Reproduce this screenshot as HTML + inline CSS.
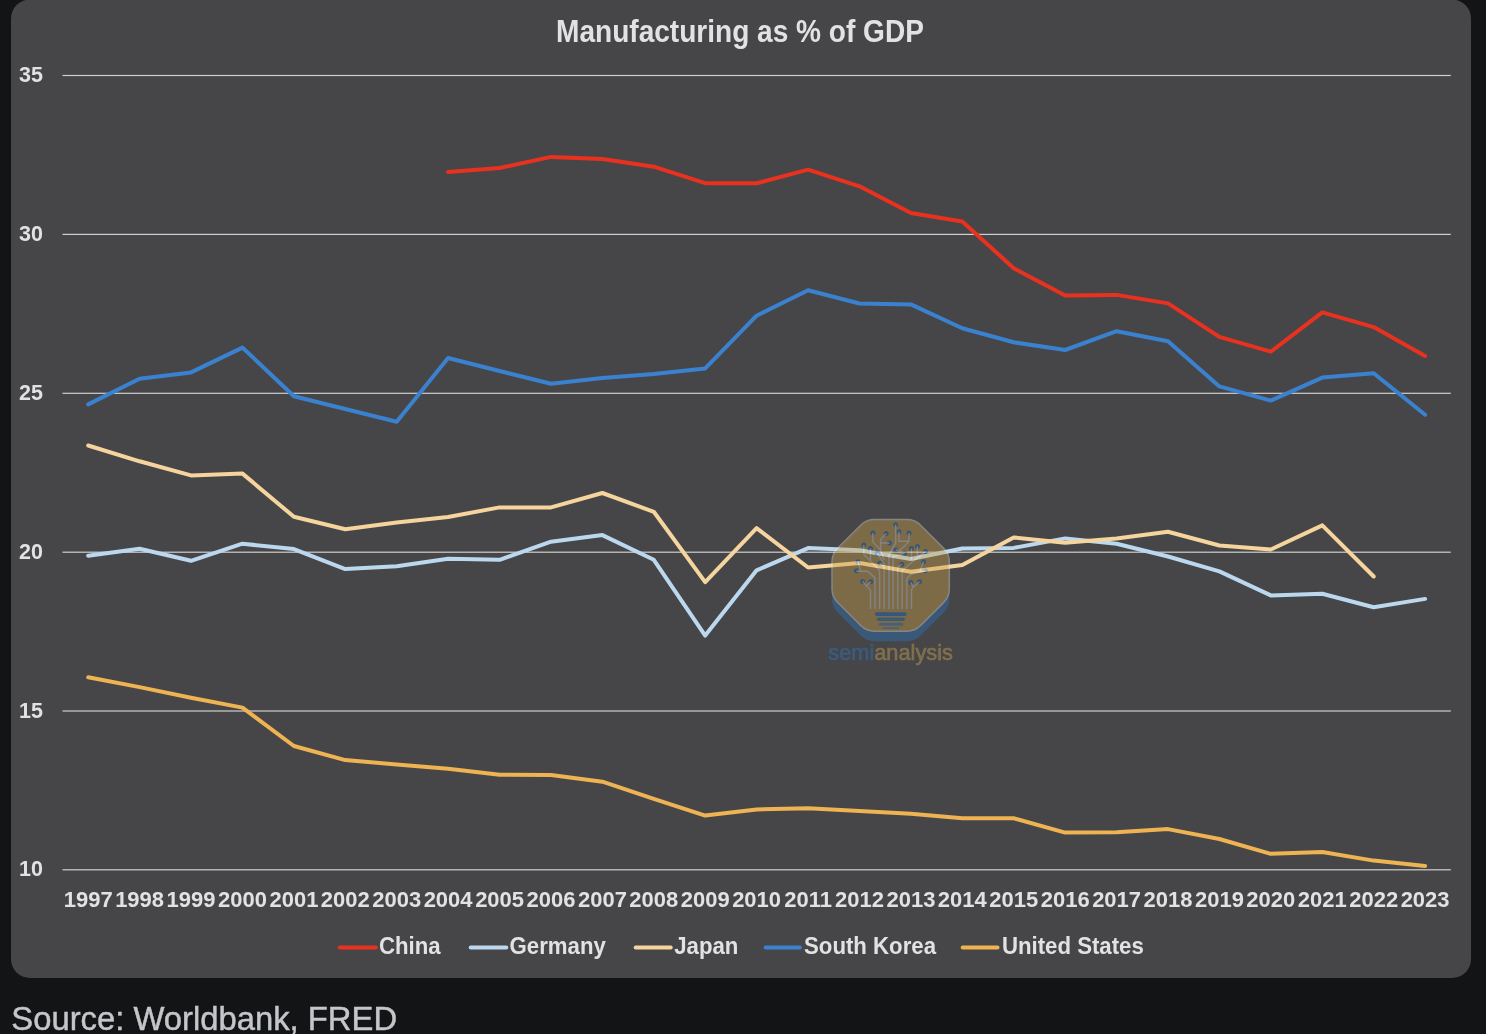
<!DOCTYPE html>
<html><head><meta charset="utf-8"><title>Manufacturing as % of GDP</title>
<style>
html,body{margin:0;padding:0;background:#131416;width:1486px;height:1034px;overflow:hidden;font-family:"Liberation Sans",sans-serif;}
</style></head><body>
<svg width="1486" height="1034" viewBox="0 0 1486 1034" style="position:absolute;left:0;top:0;will-change:transform">
<rect x="11" y="-0.5" width="1460" height="978.5" rx="19" ry="19" fill="#464648"/>
<text x="740" y="42" text-anchor="middle" font-family="Liberation Sans" font-weight="bold" font-size="32" fill="#e2e2e2" transform="translate(740 0) scale(0.877 1) translate(-740 0)">Manufacturing as % of GDP</text>
<rect x="62.5" y="74.90" width="1388.3" height="1.2" fill="#cfcfcf"/>
<text x="42.9" y="82.0" text-anchor="end" font-family="Liberation Sans" font-weight="bold" font-size="21.5" fill="#e2e2e2">35</text>
<rect x="62.5" y="233.80" width="1388.3" height="1.2" fill="#cfcfcf"/>
<text x="42.9" y="240.9" text-anchor="end" font-family="Liberation Sans" font-weight="bold" font-size="21.5" fill="#e2e2e2">30</text>
<rect x="62.5" y="392.70" width="1388.3" height="1.2" fill="#cfcfcf"/>
<text x="42.9" y="399.8" text-anchor="end" font-family="Liberation Sans" font-weight="bold" font-size="21.5" fill="#e2e2e2">25</text>
<rect x="62.5" y="551.60" width="1388.3" height="1.2" fill="#cfcfcf"/>
<text x="42.9" y="558.7" text-anchor="end" font-family="Liberation Sans" font-weight="bold" font-size="21.5" fill="#e2e2e2">20</text>
<rect x="62.5" y="710.40" width="1388.3" height="1.2" fill="#cfcfcf"/>
<text x="42.9" y="717.5" text-anchor="end" font-family="Liberation Sans" font-weight="bold" font-size="21.5" fill="#e2e2e2">15</text>
<rect x="62.5" y="869.20" width="1388.3" height="1.2" fill="#cfcfcf"/>
<text x="42.9" y="876.3" text-anchor="end" font-family="Liberation Sans" font-weight="bold" font-size="21.5" fill="#e2e2e2">10</text>
<text x="0" y="0" transform="translate(88.2 907.1) scale(1 1.045)" text-anchor="middle" font-family="Liberation Sans" font-weight="bold" font-size="22" fill="#e2e2e2">1997</text>
<text x="0" y="0" transform="translate(139.6 907.1) scale(1 1.045)" text-anchor="middle" font-family="Liberation Sans" font-weight="bold" font-size="22" fill="#e2e2e2">1998</text>
<text x="0" y="0" transform="translate(191.0 907.1) scale(1 1.045)" text-anchor="middle" font-family="Liberation Sans" font-weight="bold" font-size="22" fill="#e2e2e2">1999</text>
<text x="0" y="0" transform="translate(242.5 907.1) scale(1 1.045)" text-anchor="middle" font-family="Liberation Sans" font-weight="bold" font-size="22" fill="#e2e2e2">2000</text>
<text x="0" y="0" transform="translate(293.9 907.1) scale(1 1.045)" text-anchor="middle" font-family="Liberation Sans" font-weight="bold" font-size="22" fill="#e2e2e2">2001</text>
<text x="0" y="0" transform="translate(345.3 907.1) scale(1 1.045)" text-anchor="middle" font-family="Liberation Sans" font-weight="bold" font-size="22" fill="#e2e2e2">2002</text>
<text x="0" y="0" transform="translate(396.7 907.1) scale(1 1.045)" text-anchor="middle" font-family="Liberation Sans" font-weight="bold" font-size="22" fill="#e2e2e2">2003</text>
<text x="0" y="0" transform="translate(448.1 907.1) scale(1 1.045)" text-anchor="middle" font-family="Liberation Sans" font-weight="bold" font-size="22" fill="#e2e2e2">2004</text>
<text x="0" y="0" transform="translate(499.6 907.1) scale(1 1.045)" text-anchor="middle" font-family="Liberation Sans" font-weight="bold" font-size="22" fill="#e2e2e2">2005</text>
<text x="0" y="0" transform="translate(551.0 907.1) scale(1 1.045)" text-anchor="middle" font-family="Liberation Sans" font-weight="bold" font-size="22" fill="#e2e2e2">2006</text>
<text x="0" y="0" transform="translate(602.4 907.1) scale(1 1.045)" text-anchor="middle" font-family="Liberation Sans" font-weight="bold" font-size="22" fill="#e2e2e2">2007</text>
<text x="0" y="0" transform="translate(653.8 907.1) scale(1 1.045)" text-anchor="middle" font-family="Liberation Sans" font-weight="bold" font-size="22" fill="#e2e2e2">2008</text>
<text x="0" y="0" transform="translate(705.2 907.1) scale(1 1.045)" text-anchor="middle" font-family="Liberation Sans" font-weight="bold" font-size="22" fill="#e2e2e2">2009</text>
<text x="0" y="0" transform="translate(756.6 907.1) scale(1 1.045)" text-anchor="middle" font-family="Liberation Sans" font-weight="bold" font-size="22" fill="#e2e2e2">2010</text>
<text x="0" y="0" transform="translate(808.1 907.1) scale(1 1.045)" text-anchor="middle" font-family="Liberation Sans" font-weight="bold" font-size="22" fill="#e2e2e2">2011</text>
<text x="0" y="0" transform="translate(859.5 907.1) scale(1 1.045)" text-anchor="middle" font-family="Liberation Sans" font-weight="bold" font-size="22" fill="#e2e2e2">2012</text>
<text x="0" y="0" transform="translate(910.9 907.1) scale(1 1.045)" text-anchor="middle" font-family="Liberation Sans" font-weight="bold" font-size="22" fill="#e2e2e2">2013</text>
<text x="0" y="0" transform="translate(962.3 907.1) scale(1 1.045)" text-anchor="middle" font-family="Liberation Sans" font-weight="bold" font-size="22" fill="#e2e2e2">2014</text>
<text x="0" y="0" transform="translate(1013.7 907.1) scale(1 1.045)" text-anchor="middle" font-family="Liberation Sans" font-weight="bold" font-size="22" fill="#e2e2e2">2015</text>
<text x="0" y="0" transform="translate(1065.2 907.1) scale(1 1.045)" text-anchor="middle" font-family="Liberation Sans" font-weight="bold" font-size="22" fill="#e2e2e2">2016</text>
<text x="0" y="0" transform="translate(1116.6 907.1) scale(1 1.045)" text-anchor="middle" font-family="Liberation Sans" font-weight="bold" font-size="22" fill="#e2e2e2">2017</text>
<text x="0" y="0" transform="translate(1168.0 907.1) scale(1 1.045)" text-anchor="middle" font-family="Liberation Sans" font-weight="bold" font-size="22" fill="#e2e2e2">2018</text>
<text x="0" y="0" transform="translate(1219.4 907.1) scale(1 1.045)" text-anchor="middle" font-family="Liberation Sans" font-weight="bold" font-size="22" fill="#e2e2e2">2019</text>
<text x="0" y="0" transform="translate(1270.8 907.1) scale(1 1.045)" text-anchor="middle" font-family="Liberation Sans" font-weight="bold" font-size="22" fill="#e2e2e2">2020</text>
<text x="0" y="0" transform="translate(1322.3 907.1) scale(1 1.045)" text-anchor="middle" font-family="Liberation Sans" font-weight="bold" font-size="22" fill="#e2e2e2">2021</text>
<text x="0" y="0" transform="translate(1373.7 907.1) scale(1 1.045)" text-anchor="middle" font-family="Liberation Sans" font-weight="bold" font-size="22" fill="#e2e2e2">2022</text>
<text x="0" y="0" transform="translate(1425.1 907.1) scale(1 1.045)" text-anchor="middle" font-family="Liberation Sans" font-weight="bold" font-size="22" fill="#e2e2e2">2023</text>
<polyline points="448.1,172.0 499.6,168.0 551.0,156.9 602.4,158.9 653.8,166.7 705.2,183.2 756.6,183.3 808.1,169.6 859.5,186.3 910.9,213.0 962.3,221.5 1013.7,268.2 1065.2,295.5 1116.6,294.9 1168.0,303.4 1219.4,336.9 1270.8,351.6 1322.3,312.4 1373.7,327.1 1425.1,355.9" fill="none" stroke="#e8321f" stroke-width="4" stroke-linejoin="round" stroke-linecap="round"/>
<polyline points="88.2,555.8 139.6,548.7 191.0,560.8 242.5,543.7 293.9,549.1 345.3,569.1 396.7,566.3 448.1,558.8 499.6,559.8 551.0,541.7 602.4,535.1 653.8,559.8 705.2,635.6 756.6,570.3 808.1,548.1 859.5,550.2 910.9,559.0 962.3,548.5 1013.7,547.9 1065.2,538.4 1116.6,543.8 1168.0,556.5 1219.4,571.4 1270.8,595.4 1322.3,593.7 1373.7,607.2 1425.1,598.9" fill="none" stroke="#bcd8ef" stroke-width="4" stroke-linejoin="round" stroke-linecap="round"/>
<polyline points="88.2,445.5 139.6,461.3 191.0,475.4 242.5,473.6 293.9,516.8 345.3,529.2 396.7,522.5 448.1,517.0 499.6,507.4 551.0,507.4 602.4,493.0 653.8,511.8 705.2,582.1 756.6,528.1 808.1,567.5 859.5,563.0 910.9,571.7 962.3,565.0 1013.7,537.4 1065.2,542.8 1116.6,538.5 1168.0,531.8 1219.4,545.5 1270.8,549.5 1322.3,525.4 1373.7,576.5" fill="none" stroke="#f5d49e" stroke-width="4" stroke-linejoin="round" stroke-linecap="round"/>
<polyline points="88.2,404.4 139.6,378.8 191.0,372.4 242.5,347.6 293.9,396.2 345.3,409.0 396.7,421.8 448.1,358.0 499.6,371.0 551.0,383.7 602.4,378.0 653.8,374.0 705.2,368.4 756.6,315.7 808.1,290.3 859.5,303.5 910.9,304.4 962.3,328.3 1013.7,342.3 1065.2,350.0 1116.6,331.2 1168.0,341.3 1219.4,386.4 1270.8,400.6 1322.3,377.6 1373.7,373.3 1425.1,414.7" fill="none" stroke="#3a82cf" stroke-width="4" stroke-linejoin="round" stroke-linecap="round"/>
<polyline points="88.2,677.2 139.6,687.1 191.0,697.7 242.5,707.6 293.9,746.0 345.3,760.1 396.7,764.5 448.1,768.7 499.6,774.8 551.0,774.9 602.4,781.7 653.8,798.9 705.2,815.6 756.6,809.4 808.1,808.3 859.5,811.0 910.9,813.7 962.3,818.3 1013.7,818.3 1065.2,832.6 1116.6,832.3 1168.0,829.1 1219.4,839.0 1270.8,853.8 1322.3,852.0 1373.7,860.6 1425.1,866.0" fill="none" stroke="#eeb352" stroke-width="4" stroke-linejoin="round" stroke-linecap="round"/>
<g opacity="0.42"><path d="M860.69,535.16Q866.35,529.50 874.35,529.50L906.95,529.50Q914.95,529.50 920.61,535.16L943.64,558.19Q949.30,563.85 949.30,571.85L949.30,598.85Q949.30,606.85 943.64,612.51L920.61,635.54Q914.95,641.20 906.95,641.20L874.35,641.20Q866.35,641.20 860.69,635.54L837.66,612.51Q832.00,606.85 832.00,598.85L832.00,571.85Q832.00,563.85 837.66,558.19Z" fill="#2a74bc"/><path d="M860.69,525.16Q866.35,519.50 874.35,519.50L906.95,519.50Q914.95,519.50 920.61,525.16L943.64,548.19Q949.30,553.85 949.30,561.85L949.30,588.85Q949.30,596.85 943.64,602.51L920.61,625.54Q914.95,631.20 906.95,631.20L874.35,631.20Q866.35,631.20 860.69,625.54L837.66,602.51Q832.00,596.85 832.00,588.85L832.00,561.85Q832.00,553.85 837.66,548.19Z" fill="#c9a04a" stroke="#e0ddd6" stroke-width="1.5"/><circle cx="895.7" cy="524.8" r="2.5" fill="#2a6cb0"/><circle cx="898.9" cy="531.8" r="2.5" fill="#2a6cb0"/><circle cx="909.0" cy="532.9" r="2.5" fill="#2a6cb0"/><circle cx="872.9" cy="532.9" r="2.5" fill="#2a6cb0"/><circle cx="886.2" cy="533.6" r="2.5" fill="#2a6cb0"/><circle cx="889.6" cy="542.9" r="2.5" fill="#2a6cb0"/><circle cx="863.8" cy="545.1" r="2.5" fill="#2a6cb0"/><circle cx="870.5" cy="548.4" r="2.5" fill="#2a6cb0"/><circle cx="877.2" cy="553.1" r="2.5" fill="#2a6cb0"/><circle cx="895.8" cy="550.1" r="2.5" fill="#2a6cb0"/><circle cx="904.6" cy="553.2" r="2.5" fill="#2a6cb0"/><circle cx="911.5" cy="548.4" r="2.5" fill="#2a6cb0"/><circle cx="917.4" cy="546.6" r="2.5" fill="#2a6cb0"/><circle cx="925.4" cy="551.6" r="2.5" fill="#2a6cb0"/><circle cx="923.5" cy="561.8" r="2.5" fill="#2a6cb0"/><circle cx="925.3" cy="570.8" r="2.5" fill="#2a6cb0"/><circle cx="901.7" cy="564.3" r="2.5" fill="#2a6cb0"/><circle cx="879.8" cy="563.2" r="2.5" fill="#2a6cb0"/><circle cx="858.0" cy="561.8" r="2.5" fill="#2a6cb0"/><circle cx="856.5" cy="570.8" r="2.5" fill="#2a6cb0"/><circle cx="862.7" cy="581.4" r="2.5" fill="#2a6cb0"/><circle cx="870.7" cy="581.7" r="2.5" fill="#2a6cb0"/><circle cx="910.8" cy="582.5" r="2.5" fill="#2a6cb0"/><circle cx="919.5" cy="581.7" r="2.5" fill="#2a6cb0"/><path d="M870.5,609V590L866.5,586L862.7,581.4M866.5,586L870.7,581.7M875,609V577.7L867.4,571.2H856.5M860.9,571.2L858,561.8M879.6,609V570.5L870.5,561V548.4M870.5,561L863.8,554.5V545.1M884.1,609V564L877.2,553.1M884.1,566.5L879.8,563.2M889,609V554.5L895.7,543.4V524.8M884.1,560L880.6,550V539.5L886.2,533.6M880.6,550L872.9,542.1V532.9M880.6,543H889.6M893.1,609V556.7L904.6,553.2M897.7,609V567L901.7,564.3M902.2,609V570.5L912.5,561.8L925.4,551.6M911.5,548.4V560M917.4,546.6V556M906.8,609V578.5L911.2,574.1L925.3,570.8M919.8,571.8L923.5,561.8M911.5,609V590L913.3,587.2L919.5,581.7M913.3,587.2L910.8,582.5M895.8,550.1H900.2L907.2,543.4L909,541.2V532.9M898.9,531.8V541.2H909" fill="none" stroke="#dadada" stroke-width="1.35"/><rect x="874.8" y="612.2" width="31.9" height="3.7" rx="1.8" fill="#2070c8"/><rect x="876.9" y="617.6" width="28.0" height="3.4" rx="1.7" fill="#3278b8"/><rect x="878.8" y="622.7" width="24.3" height="3.1" rx="1.5" fill="#5082a8"/><rect x="882.5" y="627.1" width="16.7" height="2.1" rx="1.1" fill="#70889a"/></g><text x="0" y="0" font-family="Liberation Sans" font-size="22" stroke-width="0.6" opacity="0.52" transform="translate(828.3 659.8) scale(0.99 1)"><tspan fill="#2f70b0" stroke="#2f70b0">semi</tspan><tspan fill="#b89650" stroke="#b89650">analysis</tspan></text>
<line x1="339.6" y1="947.5" x2="375.9" y2="947.5" stroke="#e8321f" stroke-width="3.8" stroke-linecap="round"/>
<text x="0" y="0" transform="translate(379.0 954) scale(1.01 1.1)" font-family="Liberation Sans" font-weight="bold" font-size="22" fill="#e2e2e2">China</text>
<line x1="470.6" y1="947.5" x2="506.4" y2="947.5" stroke="#bcd8ef" stroke-width="3.8" stroke-linecap="round"/>
<text x="0" y="0" transform="translate(509.6 954) scale(1.01 1.1)" font-family="Liberation Sans" font-weight="bold" font-size="22" fill="#e2e2e2">Germany</text>
<line x1="635.6" y1="947.5" x2="670.8" y2="947.5" stroke="#f5d49e" stroke-width="3.8" stroke-linecap="round"/>
<text x="0" y="0" transform="translate(674.2 954) scale(1.01 1.1)" font-family="Liberation Sans" font-weight="bold" font-size="22" fill="#e2e2e2">Japan</text>
<line x1="765.6" y1="947.5" x2="800.0" y2="947.5" stroke="#3a82cf" stroke-width="3.8" stroke-linecap="round"/>
<text x="0" y="0" transform="translate(804.0 954) scale(1.01 1.1)" font-family="Liberation Sans" font-weight="bold" font-size="22" fill="#e2e2e2">South Korea</text>
<line x1="962.6" y1="947.5" x2="997.6" y2="947.5" stroke="#eeb352" stroke-width="3.8" stroke-linecap="round"/>
<text x="0" y="0" transform="translate(1001.9 954) scale(1.01 1.1)" font-family="Liberation Sans" font-weight="bold" font-size="22" fill="#e2e2e2">United States</text>
<text x="11.3" y="1029.6" font-family="Liberation Sans" font-size="32.8" fill="#c4c6c9" stroke="#c4c6c9" stroke-width="0.45">Source: Worldbank, FRED</text>
</svg>

</body></html>
